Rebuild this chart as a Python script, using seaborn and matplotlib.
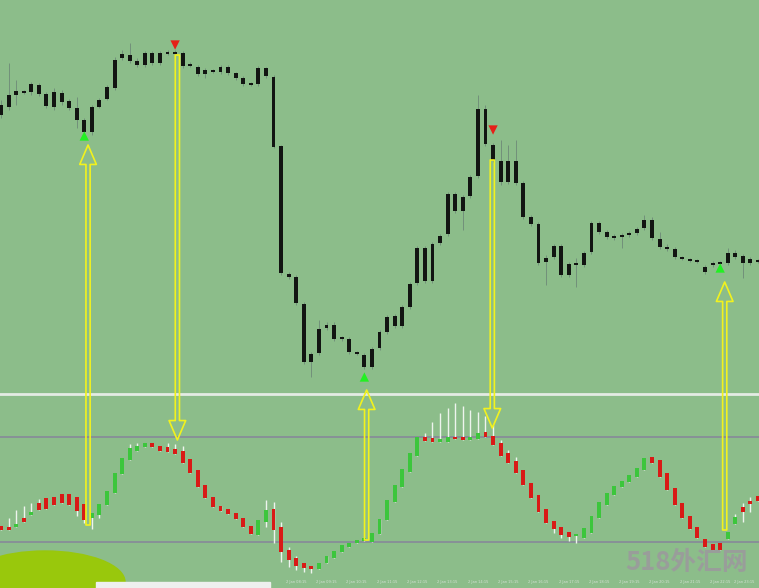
import numpy as np
import pandas as pd
import seaborn as sns
import matplotlib.pyplot as plt
import matplotlib.patches as mpatches
from matplotlib.patches import ConnectionPatch

# ---- price candles (upper panel) ----
opens = [285, 293, 305, 308, 308, 315, 306, 293, 307, 299, 292, 280, 268, 293, 301, 312, 342, 345, 339, 335,
         347, 337, 347, 347, 347, 335, 333, 326, 329, 328, 333, 327, 322, 316, 316, 332, 323, 254, 126, 123,
         96, 38, 47, 72, 75, 62, 61, 47, 45, 33, 52, 68, 84, 74, 93, 117, 152, 119, 157, 166,
         206, 189, 204, 224, 291, 255, 239, 218, 239, 217, 183, 176, 138, 143, 154, 125, 136, 135, 148, 177,
         168, 163, 164, 165, 167, 172, 180, 161, 153, 151, 142, 140, 139, 133, 135, 137, 137, 147, 144, 137, 139]
closes = [295, 305, 309, 308, 316, 306, 294, 308, 298, 292, 280, 268, 293, 300, 313, 340, 346, 339, 335, 347,
          337, 347, 347, 347, 334, 335, 326, 330, 329, 333, 327, 322, 316, 316, 332, 324, 253, 127, 123, 97,
          38, 46, 71, 75, 61, 62, 48, 47, 33, 51, 68, 83, 74, 93, 116, 152, 119, 156, 164, 206,
          189, 203, 223, 291, 256, 240, 218, 239, 217, 183, 176, 137, 142, 154, 125, 136, 136, 147, 177, 168,
          163, 163, 164, 167, 171, 180, 162, 153, 151, 143, 142, 140, 139, 128, 137, 137, 147, 143, 137, 141, 139]
highs = [300, 337, 320, 310, 318, 317, 308, 312, 310, 301, 303, 282, 295, 302, 315, 343, 350, 357, 342, 349,
         349, 349, 350, 350, 349, 338, 335, 332, 331, 335, 335, 328, 324, 318, 334, 333, 325, 255, 128, 125,
         98, 48, 80, 78, 78, 64, 63, 49, 47, 53, 70, 85, 86, 95, 118, 154, 154, 158, 166, 208,
         208, 205, 225, 305, 295, 257, 260, 255, 260, 219, 185, 178, 145, 156, 156, 138, 142, 149, 179, 179,
         170, 166, 167, 169, 173, 185, 183, 168, 156, 153, 144, 142, 141, 135, 139, 139, 152, 150, 146, 143, 141]
lows = [282, 290, 295, 306, 305, 304, 292, 290, 295, 290, 272, 263, 265, 292, 300, 310, 340, 337, 333, 333,
        335, 335, 345, 344, 332, 333, 324, 322, 327, 326, 325, 320, 314, 314, 314, 322, 252, 125, 121, 95,
        36, 23, 45, 70, 59, 59, 46, 45, 31, 31, 50, 66, 72, 72, 91, 115, 117, 117, 155, 164,
        187, 170, 202, 222, 254, 238, 215, 216, 215, 181, 174, 135, 115, 141, 123, 123, 113, 133, 146, 166,
        161, 160, 152, 163, 165, 170, 160, 151, 149, 141, 140, 138, 137, 126, 133, 135, 135, 141, 122, 135, 137]

# ---- oscillator candles (lower panel) ----
ind_open = [-36, -37, -37, -28, -25, -13, -8, -7, -4, -4, -7, -14, -28, -25, -15, -3, 16, 30, 39, 43,
            47, 44, 43, 41, 39, 31, 20, 5, -7, -16, -19, -23, -28, -36, -45, -32, -19, -37, -60, -68,
            -73, -76, -79, -73, -68, -62, -57, -53, -51, -52, -44, -30, -12, 3, 18, 34, 53, 52, 48, 48,
            53, 53, 50, 51, 58, 54, 47, 37, 29, 20, 7, -5, -19, -31, -37, -42, -46, -48, -43, -28,
            -15, -5, 3, 8, 13, 20, 33, 30, 17, 2, -13, -26, -37, -49, -54, -53, -49, -34, -17, -11, -6]
ind_close = [-40, -40, -34, -32, -22, -20, -19, -15, -13, -15, -21, -30, -23, -14, -1, 17, 32, 42, 44, 47,
             43, 39, 38, 36, 27, 17, 3, -8, -17, -21, -24, -29, -37, -44, -30, -20, -40, -62, -70, -76,
             -78, -79, -73, -66, -61, -55, -53, -50, -48, -43, -29, -10, 5, 21, 37, 53, 49, 48, 51, 53,
             51, 50, 53, 57, 53, 45, 34, 27, 17, 5, -8, -22, -33, -39, -45, -47, -44, -38, -26, -12,
             -3, 4, 9, 15, 22, 32, 27, 13, 0, -15, -28, -39, -48, -57, -60, -60, -42, -27, -22, -14, -11]
ind_high = [-36, -28, -20, -16, -13, -9, -8, -7, -4, -4, -7, -14, -23, -14, -1, 17, 32, 46, 47, 47,
            47, 44, 47, 46, 44, 31, 20, 5, -7, -16, -19, -23, -28, -36, -30, -10, -12, -32, -57, -66,
            -73, -76, -73, -66, -61, -55, -53, -50, -48, -43, -29, -10, 5, 21, 37, 53, 57, 68, 77, 82,
            87, 84, 80, 78, 74, 65, 50, 40, 33, 20, 7, -5, -19, -31, -37, -42, -44, -38, -26, -12,
            -3, 4, 9, 15, 22, 32, 33, 30, 17, 2, -13, -26, -37, -49, -54, -53, -42, -24, -13, -7, -6]
ind_low = [-40, -40, -37, -32, -25, -20, -19, -15, -13, -15, -26, -33, -39, -28, -15, -3, 16, 30, 39, 43,
           43, 39, 38, 36, 27, 17, 3, -8, -17, -21, -24, -29, -37, -44, -45, -37, -53, -72, -77, -80,
           -82, -83, -79, -73, -68, -62, -57, -53, -51, -52, -44, -30, -12, 3, 18, 34, 49, 48, 48, 48,
           51, 50, 50, 51, 53, 45, 34, 27, 17, 5, -8, -22, -33, -43, -48, -51, -53, -48, -43, -28,
           -15, -5, 3, 8, 13, 20, 27, 13, 0, -15, -28, -39, -48, -57, -60, -60, -49, -34, -32, -22, -11]
levels = [53, -52]

# ---- signals ----
sig_bar = [11, 23, 48, 65, 95]
sig_price = [264, 355, 23, 270, 132]
sig_kind = ["buy", "sell", "buy", "sell", "buy"]
# arrows linking oscillator to price: bar, oscillator value, price value, head on price side
link_bar = [11.5, 23.3, 48.3, 64.9, 95.6]
link_osc = [-35, 50, -50, 62, -40]
link_price = [255, 345, 10, 240, 118]
link_up = [True, False, True, False, True]

time_bars = list(range(39, 101, 4))
time_labels = ["2 Jan %02d:15" % h for h in range(8, 24)]

bg = "#8cbd8a"
sns.set_theme(style="white", rc={"axes.facecolor": bg, "figure.facecolor": bg})

W, H = 759, 588
fig = plt.figure(figsize=(W / 100, H / 100), dpi=100)
ax_up = fig.add_axes([0, (H - 391) / H, 1, 391 / H])
ax_lo = fig.add_axes([0, 8 / H, 1, (580 - 394) / H])

x = np.arange(len(opens))
xlim = (-0.13, 100.13)


def draw_candles(ax, o, c, hi, lo, up_col, dn_col, wick_col, wick_lw):
    o = np.array(o, float)
    c = np.array(c, float)
    ax.vlines(x, lo, hi, color=wick_col, lw=wick_lw, zorder=2)
    bot = np.minimum(o, c)
    height = np.maximum(np.abs(c - o), 1.6)
    cols = [up_col if cc > oo else dn_col for oo, cc in zip(o, c)]
    ax.bar(x, height, bottom=bot - (height - np.abs(c - o)) / 2, width=0.52,
           color=cols, linewidth=0, zorder=3)


draw_candles(ax_up, opens, closes, highs, lows, "#121512", "#121512", "#72907a", 0.7)
draw_candles(ax_lo, ind_open, ind_close, ind_high, ind_low, "#3cc63c", "#d91a16", "#eef4ee", 1.0)

for lv in levels:
    ax_lo.axhline(lv, color="#86849a", lw=1.1, zorder=1)

sig = pd.DataFrame({"bar": sig_bar, "price": sig_price, "kind": sig_kind})
sns.scatterplot(data=sig, x="bar", y="price", hue="kind", style="kind",
                palette={"buy": "#22f022", "sell": "#e52018"},
                markers={"buy": "^", "sell": "v"}, s=45, linewidth=0,
                legend=False, ax=ax_up, zorder=5)

ax_up.set_xlim(xlim)
ax_up.set_ylim(9, 400)
ax_lo.set_xlim(xlim)
ax_lo.set_ylim(-90, 96)
for ax in (ax_up, ax_lo):
    ax.set_xticks([])
    ax.set_yticks([])
    ax.set_xlabel("")
    ax.set_ylabel("")
    for s in ax.spines.values():
        s.set_visible(False)
ax_lo.spines["top"].set_visible(True)
ax_lo.spines["top"].set_color("#e4ece4")
ax_lo.spines["top"].set_linewidth(2)

# yellow hollow arrows between panels
for b, ov, pv, up in zip(link_bar, link_osc, link_price, link_up):
    a = (b, ov, ax_lo.transData)
    p = (b, pv, ax_up.transData)
    start, end = (a, p) if up else (p, a)
    con = ConnectionPatch(xyA=start[:2], coordsA=start[2], xyB=end[:2], coordsB=end[2],
                          arrowstyle="simple,head_length=1.4,head_width=1.2,tail_width=0.3",
                          mutation_scale=10, facecolor="none", edgecolor="#f2f21e",
                          lw=1.2, zorder=6)
    fig.add_artist(con)

# bottom time strip
for b, lab in zip(time_bars, time_labels):
    ha = "right" if b == time_bars[-1] else "center"
    ax_lo.annotate(lab, xy=(b + (0.5 if ha == "right" else 0), 0),
                   xycoords=("data", "figure fraction"), xytext=(0, 3),
                   textcoords="offset points", ha=ha, va="bottom", fontsize=2.6,
                   color="#d6e2d6", annotation_clip=False)
fig.add_artist(mpatches.Ellipse((45 / W, 6 / H), 160 / W, 62 / H, transform=fig.transFigure,
                                color="#99c80c", zorder=7))
fig.add_artist(mpatches.Rectangle((96 / W, 0), 174 / W, 6 / H, transform=fig.transFigure,
                                  color="#eef0ee", zorder=8))

# watermark
fig.text(687 / W, 25 / H, "518外汇网", ha="center", va="center", fontsize=18.5,
         fontweight="bold", color="#9b9a9c", alpha=0.9,
         family=["Noto Sans CJK SC", "DejaVu Sans"], zorder=8)

fig.savefig("out.png", dpi=100, facecolor=bg)
